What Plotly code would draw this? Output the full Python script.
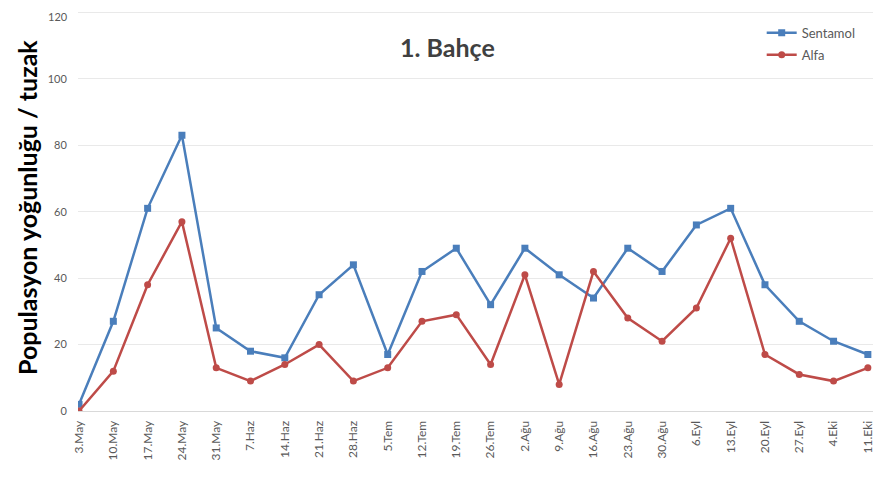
import plotly.graph_objects as go

categories = ["3.May", "10.May", "17.May", "24.May", "31.May", "7.Haz", "14.Haz", "21.Haz",
              "28.Haz", "5.Tem", "12.Tem", "19.Tem", "26.Tem", "2.Ağu", "9.Ağu", "16.Ağu",
              "23.Ağu", "30.Ağu", "6.Eyl", "13.Eyl", "20.Eyl", "27.Eyl", "4.Eki", "11.Eki"]
sentamol = [2, 27, 61, 83, 25, 18, 16, 35, 44, 17, 42, 49, 32, 49, 41, 34, 49, 42, 56, 61, 38, 27, 21, 17]
alfa = [0, 12, 38, 57, 13, 9, 14, 20, 9, 13, 27, 29, 14, 41, 8, 42, 28, 21, 31, 52, 17, 11, 9, 13]
y_ticks = [0, 20, 40, 60, 80, 100, 120]

FONT = "Lato"
fig = go.Figure()
fig.add_trace(go.Scatter(
    x=categories, y=sentamol, name="Sentamol", mode="lines+markers", legendgroup="s",
    line=dict(color="#4A7EBB", width=2.5),
    marker=dict(symbol="square", size=7, color="#4A7EBB"),
))
fig.add_trace(go.Scatter(
    x=categories, y=alfa, name="Alfa", mode="lines+markers", legendgroup="a",
    line=dict(color="#BE4B48", width=2.5),
    marker=dict(symbol="circle", size=7, color="#BE4B48"),
))

L, R, T, B = 70, 26, 1, 74
annotations = [
    dict(text="<b>1. Bahçe</b>", x=0.465, y=0.905, xref="paper", yref="paper",
         xanchor="center", yanchor="middle",
         showarrow=False, font=dict(size=25, color="#404040", family=FONT)),
    dict(text="<b>Populasyon yoğunluğu / tuzak</b>", x=-51 / (891 - L - R), y=0.505,
         xref="paper", yref="paper",
         showarrow=False, textangle=-90, xanchor="center", yanchor="middle",
         font=dict(size=25, color="black", family=FONT)),
]
# top tick label (drawn as text since plotly hides it at the very edge of the figure)
annotations.append(dict(text=str(y_ticks[-1]), x=0, y=y_ticks[-1], xref="paper", yref="y",
                        xanchor="right", yanchor="top", xshift=-8, yshift=4, showarrow=False,
                        font=dict(size=11, color="#595959", family=FONT)))

fig.update_layout(
    width=891, height=477,
    margin=dict(l=L, r=R, t=T, b=B, autoexpand=False),
    paper_bgcolor="white", plot_bgcolor="white",
    font=dict(family=FONT, color="#595959"),
    showlegend=True,
    legend=dict(x=0.86, y=0.978, xanchor="left", yanchor="top",
                font=dict(size=13, color="#595959"), bgcolor="rgba(0,0,0,0)",
                itemwidth=30, tracegroupgap=2, traceorder="grouped"),
    annotations=annotations,
)
fig.update_xaxes(
    type="category", range=[-0.03, 23.15], automargin=False,
    tickangle=-90, tickfont=dict(size=12, color="#595959"),
    showgrid=False, showline=True, linecolor="#d9d9d9", linewidth=1,
    ticks="outside", ticklen=4, tickcolor="rgba(0,0,0,0)", zeroline=False,
)
fig.update_yaxes(
    range=[0, 121], tickvals=y_ticks, tickfont=dict(size=11, color="#595959"),
    showgrid=True, gridcolor="#e9e9e9", gridwidth=1, zeroline=False, automargin=False,
    showline=False, ticks="outside", ticklen=8, tickcolor="rgba(0,0,0,0)",
)
fig.write_html("out.html")
